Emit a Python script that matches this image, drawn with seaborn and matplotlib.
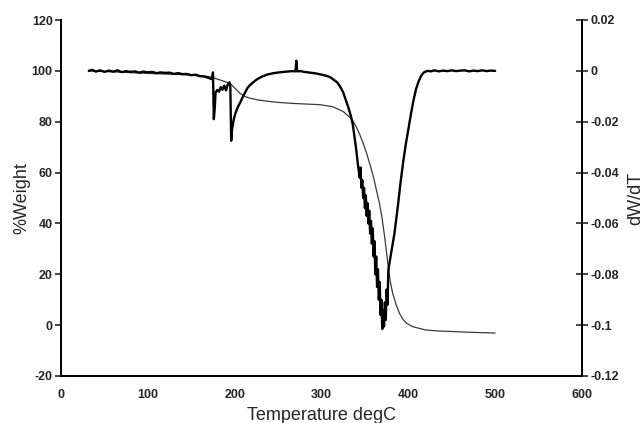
import matplotlib
matplotlib.use("Agg")
import matplotlib.pyplot as plt
import seaborn as sns
import pandas as pd

# ---- data ----
tga_temp = [32, 60, 100, 140, 170, 177, 185, 194.6, 200, 206,
            212, 218, 228, 237, 250, 267, 285, 298, 313, 325,
            335, 340, 344, 348, 352, 356, 360, 364, 367, 370,
            373, 376, 379, 382, 386, 390, 394, 398, 405, 413,
            420, 435, 450, 470, 500]
tga_weight = [100.0, 99.6, 99.0, 98.5, 97.8, 97.1, 96.2, 95.1, 93.3, 91.2,
              89.9, 89.2, 88.5, 88.1, 87.6, 87.2, 86.9, 86.7, 85.9, 84.0,
              81.0, 78.0, 75.0, 71.5, 67.5, 63.0, 58.0, 52.0, 47.5, 41.5,
              34.0, 25.5, 17.5, 12.5, 8.0, 4.5, 2.2, 0.7, -0.6, -1.3,
              -1.9, -2.3, -2.5, -2.8, -3.1]

dtg_temp = [32, 36, 40, 45, 50, 55, 60, 65, 70, 75,
            80, 85, 90, 95, 100, 105, 110, 115, 120, 125,
            130, 135, 140, 145, 150, 155, 160, 165, 170, 174,
            175, 176, 177, 178, 180, 182, 184, 186, 188, 190,
            192, 194, 195, 196, 197, 199, 201, 204, 207, 209,
            212, 215, 218, 221, 225, 230, 237, 245, 251, 260,
            266, 270, 271, 272, 276, 280, 285, 289, 295, 300,
            304, 308, 311, 314, 318, 322, 325, 328, 331, 334,
            336, 338, 340, 342, 344, 345, 346, 347, 348, 349,
            350, 351, 352, 353, 354, 355, 356, 357, 358, 359,
            360, 361, 362, 363, 364, 365, 366, 367, 368, 369,
            370, 371, 372, 373, 374, 375, 376, 377, 380, 384,
            388, 391, 394, 397, 400, 403, 406, 409, 412, 415,
            418, 422, 426, 430, 435, 440, 445, 450, 455, 460,
            465, 470, 475, 480, 485, 490, 495, 500]
dtg_value = [0.0000, 0.0004, -0.0003, 0.0002, -0.0004, 0.0001, -0.0003, 0.0002, -0.0005, -0.0001,
             -0.0004, -0.0002, -0.0007, -0.0003, -0.0006, -0.0004, -0.0009, -0.0006, -0.0008, -0.0007,
             -0.0012, -0.0009, -0.0013, -0.0012, -0.0017, -0.0015, -0.0021, -0.0022, -0.0028, -0.0033,
             -0.0006, -0.0190, -0.0150, -0.0085, -0.0075, -0.0082, -0.0064, -0.0074, -0.0058, -0.0077,
             -0.0054, -0.0045, -0.0062, -0.0275, -0.0230, -0.0190, -0.0165, -0.0140, -0.0120, -0.0105,
             -0.0085, -0.0066, -0.0055, -0.0046, -0.0035, -0.0025, -0.0015, -0.0009, -0.0006, -0.0003,
             -0.0001, -0.0002, 0.0040, -0.0002, -0.0001, -0.0004, -0.0006, -0.0008, -0.0011, -0.0015,
             -0.0018, -0.0022, -0.0027, -0.0035, -0.0045, -0.0065, -0.0085, -0.0115, -0.0145, -0.0180,
             -0.0210, -0.0260, -0.0310, -0.0370, -0.0420, -0.0380, -0.0460, -0.0430, -0.0500, -0.0460,
             -0.0540, -0.0490, -0.0570, -0.0520, -0.0600, -0.0550, -0.0640, -0.0590, -0.0680, -0.0620,
             -0.0730, -0.0670, -0.0800, -0.0730, -0.0850, -0.0780, -0.0900, -0.0830, -0.0960, -0.0900,
             -0.1015, -0.0940, -0.1005, -0.0910, -0.0980, -0.0860, -0.0920, -0.0783, -0.0720, -0.0640,
             -0.0530, -0.0440, -0.0360, -0.0290, -0.0230, -0.0170, -0.0115, -0.0070, -0.0040, -0.0018,
             -0.0006, 0.0000, -0.0002, 0.0002, -0.0002, 0.0001, -0.0001, 0.0002, -0.0001, 0.0001,
             0.0002, -0.0002, 0.0001, -0.0001, 0.0002, -0.0001, 0.0001, 0.0000]

x_ticks = [0, 100, 200, 300, 400, 500, 600]
y_ticks = [-20, 0, 20, 40, 60, 80, 100, 120]
y2_ticks = [-0.12, -0.1, -0.08, -0.06, -0.04, -0.02, 0, 0.02]
y2_labels = ["-0.12", "-0.1", "-0.08", "-0.06", "-0.04", "-0.02", "0", "0.02"]

# ---- plotting ----
sns.set_style("white")
plt.rcParams["font.family"] = ["Liberation Sans", "DejaVu Sans"]
plt.rcParams["axes.unicode_minus"] = False

tga = pd.DataFrame({"T": tga_temp, "W": tga_weight})
dtg = pd.DataFrame({"T": dtg_temp, "D": dtg_value})

fig = plt.figure(figsize=(6.44, 4.23), dpi=100)
ax = fig.add_axes([61 / 644, 1 - 376 / 423, (582 - 61) / 644, (376 - 20) / 423])
ax2 = ax.twinx()

sns.lineplot(data=tga, x="T", y="W", ax=ax, color="#3a3a3a", linewidth=0.9, sort=False)
sns.lineplot(data=dtg, x="T", y="D", ax=ax2, color="black", linewidth=1.7, sort=False)

ax.set_xlim(0, 600)
ax.set_ylim(-20, 120)
ax2.set_ylim(-0.12, 0.02)
ax.set_xticks(x_ticks)
ax.set_yticks(y_ticks)
ax2.set_yticks(y2_ticks)
ax2.set_yticklabels(y2_labels)

for a in (ax, ax2):
    a.spines["top"].set_visible(False)
    for s in ("left", "right", "bottom"):
        a.spines[s].set_linewidth(1.3)
        a.spines[s].set_color("black")
    a.grid(False)

ax.tick_params(axis="y", direction="out", length=4, width=1.2, labelsize=9, pad=2)
ax.tick_params(axis="x", direction="inout", length=6, width=1.2, labelsize=9, pad=6)
ax2.tick_params(axis="y", direction="inout", length=8, width=1.2, labelsize=9, pad=2)
for lab in ax.get_xticklabels() + ax.get_yticklabels() + ax2.get_yticklabels():
    lab.set_fontweight("bold")

ax.set_xlabel("Temperature degC", fontsize=13, labelpad=5)
ax.set_ylabel("%Weight", fontsize=13, labelpad=1)
ax2.set_ylabel("dW/dT", fontsize=13, labelpad=6)

fig.savefig("out.png", dpi=100)
